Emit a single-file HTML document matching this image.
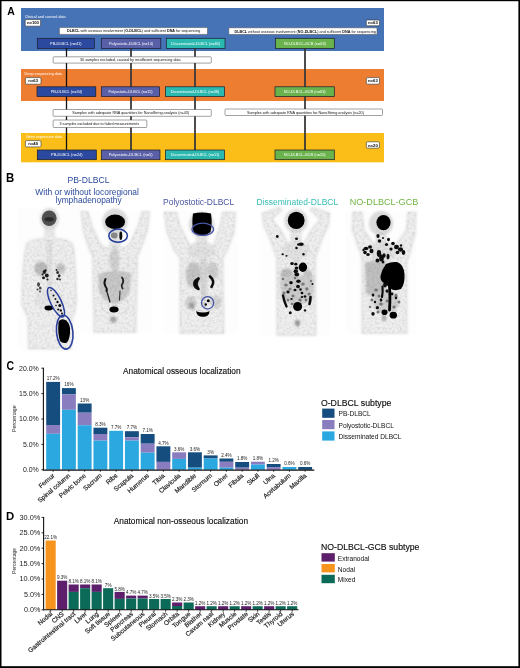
<!DOCTYPE html>
<html><head><meta charset="utf-8"><style>
html,body{margin:0;padding:0;background:#fff;}
svg{display:block;opacity:0.999;}
text{font-family:"Liberation Sans", sans-serif;}
</style></head><body>
<svg width="520" height="668" viewBox="0 0 520 668">
<rect x="0" y="0" width="520" height="668" fill="#fff"/>
<text x="0.00" y="0.00" font-size="11.45" fill="#000" text-anchor="start" font-weight="bold" transform="translate(7.2,15.2) scale(0.913,1)">A</text>
<rect x="21.00" y="8.00" width="363.00" height="43.00" fill="#4672b6" />
<rect x="21.00" y="69.00" width="363.00" height="32.00" fill="#ed7d31" />
<rect x="21.00" y="133.00" width="363.00" height="29.30" fill="#fbbd17" />
<text x="24.80" y="17.50" font-size="4.3" fill="#fff" text-anchor="start" font-weight="normal"  textLength="40.8" lengthAdjust="spacingAndGlyphs">Clinical and survival data</text>
<text x="24.60" y="75.30" font-size="4.3" fill="#fff" text-anchor="start" font-weight="normal"  textLength="37.5" lengthAdjust="spacingAndGlyphs">Deep sequencing data</text>
<text x="26.00" y="138.40" font-size="4.3" fill="#fff" text-anchor="start" font-weight="normal"  textLength="36" lengthAdjust="spacingAndGlyphs">Gene expression data</text>
<rect x="25.20" y="19.60" width="15.40" height="6.60" fill="#fff" stroke="#333" stroke-width="0.6" rx="1.2" />
<text x="32.90" y="24.40" font-size="4.2" fill="#000" text-anchor="middle" font-weight="bold" >n=100</text>
<rect x="25.40" y="77.60" width="15.60" height="6.60" fill="#fff" stroke="#333" stroke-width="0.6" rx="1.2" />
<text x="33.20" y="82.40" font-size="4.2" fill="#000" text-anchor="middle" font-weight="bold" >n=63</text>
<rect x="25.40" y="140.60" width="15.60" height="6.30" fill="#fff" stroke="#333" stroke-width="0.6" rx="1.2" />
<text x="33.20" y="145.25" font-size="4.2" fill="#000" text-anchor="middle" font-weight="bold" >n=40</text>
<rect x="366.30" y="20.00" width="13.20" height="5.80" fill="#fff" stroke="#333" stroke-width="0.6" rx="1.2" />
<text x="372.90" y="24.40" font-size="4.2" fill="#000" text-anchor="middle" font-weight="bold" >n=63</text>
<rect x="366.30" y="77.60" width="13.20" height="6.60" fill="#fff" stroke="#333" stroke-width="0.6" rx="1.2" />
<text x="372.90" y="82.40" font-size="4.2" fill="#000" text-anchor="middle" font-weight="bold" >n=63</text>
<rect x="366.30" y="141.80" width="13.20" height="6.40" fill="#fff" stroke="#333" stroke-width="0.6" rx="1.2" />
<text x="372.90" y="146.50" font-size="4.2" fill="#000" text-anchor="middle" font-weight="bold" >n=20</text>
<line x1="66.5" y1="48" x2="66.5" y2="150.5" stroke="#111" stroke-width="1.3"/>
<line x1="131.0" y1="48" x2="131.0" y2="150.5" stroke="#3a3a3a" stroke-width="1.8"/>
<line x1="195.0" y1="48" x2="195.0" y2="150.5" stroke="#3a3a3a" stroke-width="1.8"/>
<line x1="305.0" y1="48" x2="305.0" y2="150.5" stroke="#3a3a3a" stroke-width="1.8"/>
<rect x="59.40" y="27.60" width="148.10" height="6.80" fill="#fff" stroke="#444" stroke-width="0.5" rx="0.8" />
<text x="67.00" y="32.40" font-size="4.0" fill="#111" text-anchor="start" font-weight="normal"  textLength="133.4" lengthAdjust="spacingAndGlyphs"><tspan font-weight="bold">DLBCL</tspan> with osseous involvement (<tspan font-weight="bold">O-DLBCL</tspan>) and sufficient <tspan font-weight="bold">DNA</tspan> for sequencing</text>
<rect x="228.80" y="27.80" width="148.20" height="6.70" fill="#fff" stroke="#444" stroke-width="0.5" rx="0.8" />
<text x="234.50" y="32.55" font-size="4.0" fill="#111" text-anchor="start" font-weight="normal"  textLength="141.3" lengthAdjust="spacingAndGlyphs"><tspan font-weight="bold">DLBCL</tspan> without osseous involvement (<tspan font-weight="bold">NO-DLBCL</tspan>) and sufficient <tspan font-weight="bold">DNA</tspan> for sequencing</text>
<rect x="53.10" y="56.80" width="158.20" height="6.30" fill="#fff" stroke="#444" stroke-width="0.5" rx="0.8" />
<text x="80.00" y="61.35" font-size="4.0" fill="#111" text-anchor="start" font-weight="normal"  textLength="100.69999999999999" lengthAdjust="spacingAndGlyphs">30 samples excluded, caused by insufficient sequencing data</text>
<rect x="53.10" y="109.50" width="158.20" height="6.80" fill="#fff" stroke="#444" stroke-width="0.5" rx="0.8" />
<text x="72.30" y="114.30" font-size="4.0" fill="#111" text-anchor="start" font-weight="normal"  textLength="116.89999999999999" lengthAdjust="spacingAndGlyphs">Samples with adequate RNA quantities for NanoString analysis (n=43)</text>
<rect x="225.00" y="109.00" width="157.50" height="6.50" fill="#fff" stroke="#444" stroke-width="0.5" rx="0.8" />
<text x="247.00" y="113.65" font-size="4.0" fill="#111" text-anchor="start" font-weight="normal"  textLength="116.89999999999998" lengthAdjust="spacingAndGlyphs">Samples with adequate RNA quantities for NanoString analysis (n=20)</text>
<rect x="53.10" y="120.00" width="93.70" height="7.50" fill="#fff" stroke="#444" stroke-width="0.5" rx="0.8" />
<text x="59.50" y="125.15" font-size="4.0" fill="#111" text-anchor="start" font-weight="normal"  textLength="79.5" lengthAdjust="spacingAndGlyphs">3 samples excluded due to failed measurements</text>
<rect x="37.30" y="38.30" width="57.00" height="10.10" fill="#2b4a9f" stroke="#1a1a2a" stroke-width="0.7" />
<text x="65.80" y="44.75" font-size="3.9" fill="#fff" text-anchor="middle" font-weight="normal"  textLength="31.5" lengthAdjust="spacingAndGlyphs">PB-DLBCL (n=41)</text>
<rect x="101.30" y="38.30" width="59.50" height="10.10" fill="#5a60a8" stroke="#1a1a2a" stroke-width="0.7" />
<text x="131.05" y="44.75" font-size="3.9" fill="#fff" text-anchor="middle" font-weight="normal"  textLength="44" lengthAdjust="spacingAndGlyphs">Polyostotic-DLBCL (n=14)</text>
<rect x="166.30" y="38.30" width="58.70" height="10.10" fill="#2bb8ae" stroke="#1a1a2a" stroke-width="0.7" />
<text x="195.65" y="44.75" font-size="3.9" fill="#fff" text-anchor="middle" font-weight="normal"  textLength="48.7" lengthAdjust="spacingAndGlyphs">Disseminated-DLBCL (n=46)</text>
<rect x="275.50" y="38.30" width="58.80" height="10.10" fill="#6ab24b" stroke="#1a1a2a" stroke-width="0.7" />
<text x="304.90" y="44.75" font-size="3.9" fill="#fff" text-anchor="middle" font-weight="normal"  textLength="42" lengthAdjust="spacingAndGlyphs">NO-DLBCL-GCB (n=63)</text>
<rect x="37.00" y="86.80" width="58.80" height="9.80" fill="#2b4a9f" stroke="#1a1a2a" stroke-width="0.7" />
<text x="66.40" y="93.10" font-size="3.9" fill="#fff" text-anchor="middle" font-weight="normal"  textLength="31.5" lengthAdjust="spacingAndGlyphs">PB-DLBCL (n=34)</text>
<rect x="101.30" y="86.80" width="58.30" height="9.80" fill="#5a60a8" stroke="#1a1a2a" stroke-width="0.7" />
<text x="130.45" y="93.10" font-size="3.9" fill="#fff" text-anchor="middle" font-weight="normal"  textLength="44" lengthAdjust="spacingAndGlyphs">Polyostotic-DLBCL (n=11)</text>
<rect x="165.50" y="86.80" width="59.00" height="9.80" fill="#2bb8ae" stroke="#1a1a2a" stroke-width="0.7" />
<text x="195.00" y="93.10" font-size="3.9" fill="#fff" text-anchor="middle" font-weight="normal"  textLength="48.7" lengthAdjust="spacingAndGlyphs">Disseminated-DLBCL (n=38)</text>
<rect x="275.00" y="86.80" width="59.30" height="9.80" fill="#6ab24b" stroke="#1a1a2a" stroke-width="0.7" />
<text x="304.65" y="93.10" font-size="3.9" fill="#fff" text-anchor="middle" font-weight="normal"  textLength="42" lengthAdjust="spacingAndGlyphs">NO-DLBCL-GCB (n=63)</text>
<rect x="37.30" y="150.00" width="59.00" height="9.70" fill="#2b4a9f" stroke="#1a1a2a" stroke-width="0.7" />
<text x="66.80" y="156.25" font-size="3.9" fill="#fff" text-anchor="middle" font-weight="normal"  textLength="31.5" lengthAdjust="spacingAndGlyphs">PB-DLBCL (n=24)</text>
<rect x="101.30" y="150.00" width="58.70" height="9.70" fill="#5a60a8" stroke="#1a1a2a" stroke-width="0.7" />
<text x="130.65" y="156.25" font-size="3.9" fill="#fff" text-anchor="middle" font-weight="normal"  textLength="44" lengthAdjust="spacingAndGlyphs">Polyostotic-DLBCL (n=5)</text>
<rect x="165.50" y="150.00" width="59.00" height="9.70" fill="#2bb8ae" stroke="#1a1a2a" stroke-width="0.7" />
<text x="195.00" y="156.25" font-size="3.9" fill="#fff" text-anchor="middle" font-weight="normal"  textLength="48.7" lengthAdjust="spacingAndGlyphs">Disseminated-DLBCL (n=11)</text>
<rect x="275.00" y="150.00" width="59.30" height="9.70" fill="#6ab24b" stroke="#1a1a2a" stroke-width="0.7" />
<text x="304.65" y="156.25" font-size="3.9" fill="#fff" text-anchor="middle" font-weight="normal"  textLength="42" lengthAdjust="spacingAndGlyphs">NO-DLBCL-GCB (n=20)</text>
<text x="0.00" y="0.00" font-size="12" fill="#000" text-anchor="start" font-weight="bold" transform="translate(6.1,181.7) scale(0.95,1)">B</text>
<text x="67.40" y="182.70" font-size="9.9" fill="#2b4a9b" text-anchor="start" font-weight="normal"  textLength="42.1" lengthAdjust="spacingAndGlyphs">PB-DLBCL</text>
<text x="35.30" y="195.40" font-size="8.8" fill="#2b4a9b" text-anchor="start" font-weight="normal"  textLength="103.6" lengthAdjust="spacingAndGlyphs">With or without locoregional</text>
<text x="55.60" y="202.80" font-size="8.8" fill="#2b4a9b" text-anchor="start" font-weight="normal"  textLength="66" lengthAdjust="spacingAndGlyphs">lymphadenopathy</text>
<text x="163.00" y="204.50" font-size="9.6" fill="#4b56a0" text-anchor="start" font-weight="normal"  textLength="71.2" lengthAdjust="spacingAndGlyphs">Polyostotic-DLBCL</text>
<text x="256.50" y="204.50" font-size="9.6" fill="#35bdb3" text-anchor="start" font-weight="normal"  textLength="81.7" lengthAdjust="spacingAndGlyphs">Disseminated-DLBCL</text>
<text x="349.70" y="204.50" font-size="9.6" fill="#6fb543" text-anchor="start" font-weight="normal"  textLength="68.6" lengthAdjust="spacingAndGlyphs">NO-DLBCL-GCB</text>
<defs><filter id="bl" x="-10%" y="-10%" width="120%" height="120%"><feGaussianBlur stdDeviation="1.0"/></filter><filter id="bs" x="-20%" y="-20%" width="140%" height="140%"><feGaussianBlur stdDeviation="0.45"/></filter><filter id="bm2" x="-20%" y="-20%" width="140%" height="140%"><feGaussianBlur stdDeviation="0.7"/></filter><filter id="tex" x="0" y="0" width="100%" height="100%" filterUnits="userSpaceOnUse"><feTurbulence type="fractalNoise" baseFrequency="0.4" numOctaves="2" seed="7" result="n0"/><feGaussianBlur in="n0" stdDeviation="0.5" result="n"/><feColorMatrix in="n" type="matrix" values="0 0 0 0 0  0 0 0 0 0  0 0 0 0 0  2.5 0 0 0 -1.0" result="na"/><feComposite in="SourceGraphic" in2="na" operator="in"/></filter><filter id="bm" x="-20%" y="-20%" width="140%" height="140%"><feGaussianBlur stdDeviation="1.2"/></filter></defs>
<g filter="url(#bl)"><rect x="18" y="207" width="62" height="143" fill="#fdfdfd"/><path d="M45.0,226.0 L45.0,238.0 L33.0,240.0 L27.0,243.0 L25.0,250.0 L23.0,270.0 L22.0,290.0 L22.0,305.0 L25.0,312.0 L28.0,318.0 L28.5,349.0 L71.0,349.0 L72.0,318.0 L75.0,312.0 L76.5,300.0 L75.5,270.0 L74.0,250.0 L72.0,243.0 L66.0,240.0 L54.0,238.0 L54.0,226.0 Z" fill="#efefef" stroke="#dcdcdc" stroke-width="1.2"/><ellipse cx="49.5" cy="219" rx="9.8" ry="11" fill="#dedede"/><rect x="46.5" y="240" width="6" height="45" fill="#e3e3e3"/><ellipse cx="49.5" cy="300" rx="13" ry="12" fill="#e6e6e6"/></g>
<g filter="url(#bm2)"><rect x="46.9" y="240" width="5.2" height="2.3" fill="#e0e0e0"/><rect x="46.9" y="243.1" width="5.2" height="2.3" fill="#e0e0e0"/><rect x="46.9" y="246.2" width="5.2" height="2.3" fill="#e0e0e0"/><rect x="46.9" y="249.29999999999998" width="5.2" height="2.3" fill="#e0e0e0"/><rect x="46.9" y="252.39999999999998" width="5.2" height="2.3" fill="#e0e0e0"/><rect x="46.9" y="255.49999999999997" width="5.2" height="2.3" fill="#e0e0e0"/><rect x="46.9" y="258.59999999999997" width="5.2" height="2.3" fill="#e0e0e0"/><rect x="46.9" y="261.7" width="5.2" height="2.3" fill="#e0e0e0"/><rect x="46.9" y="264.8" width="5.2" height="2.3" fill="#e0e0e0"/><rect x="46.9" y="267.90000000000003" width="5.2" height="2.3" fill="#e0e0e0"/><rect x="46.9" y="271.00000000000006" width="5.2" height="2.3" fill="#e0e0e0"/><rect x="46.9" y="274.1000000000001" width="5.2" height="2.3" fill="#e0e0e0"/><rect x="46.9" y="277.2000000000001" width="5.2" height="2.3" fill="#e0e0e0"/><rect x="46.9" y="280.3000000000001" width="5.2" height="2.3" fill="#e0e0e0"/><rect x="46.9" y="283.40000000000015" width="5.2" height="2.3" fill="#e0e0e0"/><rect x="46.9" y="286.50000000000017" width="5.2" height="2.3" fill="#e0e0e0"/><rect x="46.9" y="289.6000000000002" width="5.2" height="2.3" fill="#e0e0e0"/><rect x="46.9" y="292.7000000000002" width="5.2" height="2.3" fill="#e0e0e0"/><rect x="46.9" y="295.80000000000024" width="5.2" height="2.3" fill="#e0e0e0"/><rect x="46.9" y="298.90000000000026" width="5.2" height="2.3" fill="#e0e0e0"/><path d="M46.5,246.0 Q36.83333333333333,243.5 33.666666666666664,251.0" fill="none" stroke="#eaeaea" stroke-width="0.9" stroke-linecap="round"/><path d="M52.5,246.0 Q62.16666666666667,243.5 65.33333333333333,251.0" fill="none" stroke="#eaeaea" stroke-width="0.9" stroke-linecap="round"/><path d="M46.5,250.6 Q35.56666666666667,248.1 32.083333333333336,255.6" fill="none" stroke="#eaeaea" stroke-width="0.9" stroke-linecap="round"/><path d="M52.5,250.6 Q63.43333333333333,248.1 66.91666666666666,255.6" fill="none" stroke="#eaeaea" stroke-width="0.9" stroke-linecap="round"/><path d="M46.5,255.2 Q34.3,252.7 30.5,260.2" fill="none" stroke="#eaeaea" stroke-width="0.9" stroke-linecap="round"/><path d="M52.5,255.2 Q64.7,252.7 68.5,260.2" fill="none" stroke="#eaeaea" stroke-width="0.9" stroke-linecap="round"/><path d="M46.5,259.8 Q34.3,257.3 30.5,264.8" fill="none" stroke="#eaeaea" stroke-width="0.9" stroke-linecap="round"/><path d="M52.5,259.8 Q64.7,257.3 68.5,264.8" fill="none" stroke="#eaeaea" stroke-width="0.9" stroke-linecap="round"/><path d="M46.5,264.4 Q34.3,261.9 30.5,269.4" fill="none" stroke="#eaeaea" stroke-width="0.9" stroke-linecap="round"/><path d="M52.5,264.4 Q64.7,261.9 68.5,269.4" fill="none" stroke="#eaeaea" stroke-width="0.9" stroke-linecap="round"/><path d="M46.5,269.0 Q34.3,266.5 30.5,274.0" fill="none" stroke="#eaeaea" stroke-width="0.9" stroke-linecap="round"/><path d="M52.5,269.0 Q64.7,266.5 68.5,274.0" fill="none" stroke="#eaeaea" stroke-width="0.9" stroke-linecap="round"/><path d="M46.5,273.6 Q34.3,271.1 30.5,278.6" fill="none" stroke="#eaeaea" stroke-width="0.9" stroke-linecap="round"/><path d="M52.5,273.6 Q64.7,271.1 68.5,278.6" fill="none" stroke="#eaeaea" stroke-width="0.9" stroke-linecap="round"/><path d="M45.5,294 Q34.5,291 36.5,303 Q40.5,308 46.5,307" fill="none" stroke="#e6e6e6" stroke-width="1.4" stroke-linecap="round"/><path d="M53.5,294 Q64.5,291 62.5,303 Q58.5,308 52.5,307" fill="none" stroke="#e6e6e6" stroke-width="1.4" stroke-linecap="round"/></g>
<g filter="url(#bm)"><ellipse cx="41" cy="268.5" rx="6.5" ry="7" fill="#bcbcbc"/><ellipse cx="60.6" cy="268.4" rx="4.8" ry="5.2" fill="#c4c4c4"/></g>
<g filter="url(#bs)"><ellipse cx="49.2" cy="218.2" rx="7.4" ry="7.7" fill="#505050"/><ellipse cx="49.2" cy="219.3" rx="4.5" ry="2.2" fill="#2a2a2a"/><ellipse cx="44.3" cy="272" rx="1.6" ry="1.9" fill="#1a1a1a"/><ellipse cx="46.8" cy="275.5" rx="1.9" ry="2.0" fill="#1a1a1a"/><ellipse cx="43.5" cy="277.8" rx="1.5" ry="1.5" fill="#1a1a1a"/><ellipse cx="45.5" cy="270.5" rx="1.2" ry="1.2" fill="#1a1a1a"/><ellipse cx="42.5" cy="274.5" rx="1.0" ry="1.0" fill="#1a1a1a"/><ellipse cx="47.5" cy="279.5" rx="1.0" ry="1.0" fill="#1a1a1a"/><ellipse cx="57.6" cy="272.5" rx="1.3" ry="1.5" fill="#2a2a2a"/><ellipse cx="59.2" cy="275.8" rx="1.4" ry="1.6" fill="#2a2a2a"/><ellipse cx="57.5" cy="279" rx="1.2" ry="1.2" fill="#2a2a2a"/><ellipse cx="60" cy="279.5" rx="0.9" ry="0.9" fill="#2a2a2a"/><ellipse cx="56.5" cy="270" rx="0.9" ry="0.9" fill="#2a2a2a"/><ellipse cx="38.5" cy="284.5" rx="1.5" ry="2.2" fill="#4a4a4a"/><ellipse cx="40.2" cy="288" rx="1.4" ry="1.6" fill="#4a4a4a"/><ellipse cx="37.5" cy="289.5" rx="1.1" ry="1.1" fill="#4a4a4a"/><ellipse cx="40" cy="291.5" rx="1.0" ry="1.0" fill="#4a4a4a"/><ellipse cx="48.8" cy="308" rx="4.3" ry="2.4" fill="#000"/><path d="M58.5,322 Q60,318.5 64,319.5 Q69,321 70,328 Q70.5,338 67,342.5 Q63,344 60,341 Q57.5,334 58.5,322 Z" fill="#000"/><ellipse cx="51" cy="290.5" rx="0.7" ry="0.7" fill="#111"/><ellipse cx="53.5" cy="295.5" rx="1.0" ry="1.0" fill="#111"/><ellipse cx="55.5" cy="299" rx="0.9" ry="0.9" fill="#111"/><ellipse cx="57.5" cy="302" rx="1.2" ry="1.2" fill="#111"/><ellipse cx="59.8" cy="305.5" rx="1.5" ry="1.5" fill="#111"/><ellipse cx="58.2" cy="309.5" rx="1.1" ry="1.1" fill="#111"/><ellipse cx="60.8" cy="310.5" rx="1.2" ry="1.2" fill="#111"/><ellipse cx="56" cy="305.5" rx="0.8" ry="0.8" fill="#111"/><ellipse cx="62" cy="313.5" rx="1.0" ry="1.0" fill="#111"/></g>
<ellipse cx="64.7" cy="332.2" rx="8.2" ry="17" fill="none" stroke="#2a3f9e" stroke-width="1.6" transform="rotate(-6 64.7 332.2)"/>
<ellipse cx="56" cy="302.2" rx="5.3" ry="16.2" fill="none" stroke="#2a3f9e" stroke-width="1.5" transform="rotate(-26 56 302.2)"/>
<g filter="url(#bl)"><rect x="80.5" y="210.5" width="71.5" height="122.0" fill="#fdfdfd"/><path d="M81.0,211.5 L88.0,211.5 L92.0,226.0 L100.0,243.0 L104.0,247.0 L110.0,248.0 L110.0,221.0 L120.0,221.0 L120.0,248.0 L126.0,247.0 L130.0,243.0 L138.0,226.0 L142.0,211.5 L149.5,211.5 L147.5,230.0 L140.5,250.0 L137.5,256.0 L136.0,332.5 L94.0,332.5 L92.5,256.0 L89.5,250.0 L83.0,230.0 L81.0,211.5 Z" fill="#efefef" stroke="#dcdcdc" stroke-width="1.2"/><ellipse cx="115" cy="221.5" rx="12.7" ry="13.0" fill="#dadada"/><rect x="112" y="236" width="6" height="51.5" fill="#e5e5e5"/></g>
<g filter="url(#bl)"><rect x="163.5" y="211.0" width="74.5" height="122.5" fill="#fdfdfd"/><path d="M164.0,212.0 L176.5,212.0 L180.0,226.0 L189.5,245.0 L193.0,248.0 L196.5,249.0 L196.5,224.0 L206.5,224.0 L206.5,249.0 L210.0,248.0 L213.7,245.0 L220.0,226.0 L222.6,212.0 L235.5,212.0 L234.0,232.0 L227.5,250.0 L223.0,258.0 L224.0,333.5 L180.0,333.5 L180.0,258.0 L174.0,250.0 L167.0,232.0 L164.0,212.0 Z" fill="#efefef" stroke="#dcdcdc" stroke-width="1.2"/><ellipse cx="201.5" cy="224.5" rx="12.7" ry="13.0" fill="#dadada"/><rect x="198.5" y="239" width="6" height="49.5" fill="#e5e5e5"/></g>
<g filter="url(#bl)"><rect x="260.5" y="207.5" width="70.0" height="128.0" fill="#fdfdfd"/><path d="M279.0,207.5 L282.0,210.0 L272.0,219.0 L281.0,230.4 L288.0,243.0 L290.0,245.0 L291.0,246.0 L291.0,220.5 L301.0,220.5 L301.0,246.0 L302.0,245.0 L304.0,243.0 L311.0,230.4 L320.0,219.0 L310.0,210.0 L313.0,207.5 L329.8,213.5 L328.5,225.0 L322.5,238.0 L315.5,258.0 L316.0,335.5 L277.0,335.5 L276.5,258.0 L269.5,238.0 L263.5,225.0 L262.2,213.5 L279.0,207.5 Z" fill="#efefef" stroke="#dcdcdc" stroke-width="1.2"/><ellipse cx="296.0" cy="221.0" rx="11.7" ry="12.0" fill="#dadada"/><rect x="293.0" y="235.5" width="6" height="55.0" fill="#e5e5e5"/></g>
<g filter="url(#bl)"><rect x="345.5" y="211.0" width="71.0" height="122.5" fill="#fdfdfd"/><path d="M352.9,212.0 L361.8,212.0 L364.2,230.0 L374.7,245.0 L377.0,247.0 L376.0,248.0 L376.0,223.0 L386.0,223.0 L386.0,248.0 L392.0,247.0 L395.7,245.0 L406.2,230.0 L407.9,212.0 L416.0,212.0 L415.0,235.0 L407.9,260.0 L407.0,262.0 L407.0,333.5 L362.0,333.5 L362.0,262.0 L361.0,255.0 L352.1,230.0 L352.9,212.0 Z" fill="#efefef" stroke="#dcdcdc" stroke-width="1.2"/><ellipse cx="381.0" cy="223.5" rx="12.2" ry="12.5" fill="#dadada"/><rect x="378.0" y="238" width="6" height="50.5" fill="#e5e5e5"/></g>
<g filter="url(#bm2)"><rect x="112.4" y="246" width="5.2" height="2.3" fill="#dadada"/><rect x="112.4" y="249.1" width="5.2" height="2.3" fill="#dadada"/><rect x="112.4" y="252.2" width="5.2" height="2.3" fill="#dadada"/><rect x="112.4" y="255.29999999999998" width="5.2" height="2.3" fill="#dadada"/><rect x="112.4" y="258.4" width="5.2" height="2.3" fill="#dadada"/><rect x="112.4" y="261.5" width="5.2" height="2.3" fill="#dadada"/><rect x="112.4" y="264.6" width="5.2" height="2.3" fill="#dadada"/><rect x="112.4" y="267.70000000000005" width="5.2" height="2.3" fill="#dadada"/><rect x="112.4" y="270.80000000000007" width="5.2" height="2.3" fill="#dadada"/><rect x="112.4" y="273.9000000000001" width="5.2" height="2.3" fill="#dadada"/><rect x="112.4" y="277.0000000000001" width="5.2" height="2.3" fill="#dadada"/><rect x="112.4" y="280.10000000000014" width="5.2" height="2.3" fill="#dadada"/><rect x="112.4" y="283.20000000000016" width="5.2" height="2.3" fill="#dadada"/><rect x="112.4" y="286.3000000000002" width="5.2" height="2.3" fill="#dadada"/><rect x="112.4" y="289.4000000000002" width="5.2" height="2.3" fill="#dadada"/><rect x="112.4" y="292.5000000000002" width="5.2" height="2.3" fill="#dadada"/><rect x="112.4" y="295.60000000000025" width="5.2" height="2.3" fill="#dadada"/><rect x="112.4" y="298.7000000000003" width="5.2" height="2.3" fill="#dadada"/><rect x="112.4" y="301.8000000000003" width="5.2" height="2.3" fill="#dadada"/><rect x="112.4" y="304.9000000000003" width="5.2" height="2.3" fill="#dadada"/><path d="M112,251.0 Q102.33333333333333,248.5 99.16666666666667,256.0" fill="none" stroke="#e7e7e7" stroke-width="0.9" stroke-linecap="round"/><path d="M118,251.0 Q127.66666666666667,248.5 130.83333333333334,256.0" fill="none" stroke="#e7e7e7" stroke-width="0.9" stroke-linecap="round"/><path d="M112,255.4 Q101.06666666666666,252.9 97.58333333333334,260.4" fill="none" stroke="#e7e7e7" stroke-width="0.9" stroke-linecap="round"/><path d="M118,255.4 Q128.93333333333334,252.9 132.41666666666666,260.4" fill="none" stroke="#e7e7e7" stroke-width="0.9" stroke-linecap="round"/><path d="M112,259.8 Q99.8,257.3 96.0,264.8" fill="none" stroke="#e7e7e7" stroke-width="0.9" stroke-linecap="round"/><path d="M118,259.8 Q130.2,257.3 134.0,264.8" fill="none" stroke="#e7e7e7" stroke-width="0.9" stroke-linecap="round"/><path d="M112,264.2 Q99.8,261.7 96.0,269.2" fill="none" stroke="#e7e7e7" stroke-width="0.9" stroke-linecap="round"/><path d="M118,264.2 Q130.2,261.7 134.0,269.2" fill="none" stroke="#e7e7e7" stroke-width="0.9" stroke-linecap="round"/><path d="M112,268.6 Q99.8,266.1 96.0,273.6" fill="none" stroke="#e7e7e7" stroke-width="0.9" stroke-linecap="round"/><path d="M118,268.6 Q130.2,266.1 134.0,273.6" fill="none" stroke="#e7e7e7" stroke-width="0.9" stroke-linecap="round"/><path d="M112,273.0 Q99.8,270.5 96.0,278.0" fill="none" stroke="#e7e7e7" stroke-width="0.9" stroke-linecap="round"/><path d="M118,273.0 Q130.2,270.5 134.0,278.0" fill="none" stroke="#e7e7e7" stroke-width="0.9" stroke-linecap="round"/><path d="M112,277.4 Q99.8,274.9 96.0,282.4" fill="none" stroke="#e7e7e7" stroke-width="0.9" stroke-linecap="round"/><path d="M118,277.4 Q130.2,274.9 134.0,282.4" fill="none" stroke="#e7e7e7" stroke-width="0.9" stroke-linecap="round"/><rect x="200.9" y="246" width="5.2" height="2.3" fill="#d2d2d2"/><rect x="200.9" y="249.1" width="5.2" height="2.3" fill="#d2d2d2"/><rect x="200.9" y="252.2" width="5.2" height="2.3" fill="#d2d2d2"/><rect x="200.9" y="255.29999999999998" width="5.2" height="2.3" fill="#d2d2d2"/><rect x="200.9" y="258.4" width="5.2" height="2.3" fill="#d2d2d2"/><rect x="200.9" y="261.5" width="5.2" height="2.3" fill="#d2d2d2"/><rect x="200.9" y="264.6" width="5.2" height="2.3" fill="#d2d2d2"/><rect x="200.9" y="267.70000000000005" width="5.2" height="2.3" fill="#d2d2d2"/><rect x="200.9" y="270.80000000000007" width="5.2" height="2.3" fill="#d2d2d2"/><rect x="200.9" y="273.9000000000001" width="5.2" height="2.3" fill="#d2d2d2"/><rect x="200.9" y="277.0000000000001" width="5.2" height="2.3" fill="#d2d2d2"/><rect x="200.9" y="280.10000000000014" width="5.2" height="2.3" fill="#d2d2d2"/><rect x="200.9" y="283.20000000000016" width="5.2" height="2.3" fill="#d2d2d2"/><rect x="200.9" y="286.3000000000002" width="5.2" height="2.3" fill="#d2d2d2"/><rect x="200.9" y="289.4000000000002" width="5.2" height="2.3" fill="#d2d2d2"/><rect x="200.9" y="292.5000000000002" width="5.2" height="2.3" fill="#d2d2d2"/><rect x="200.9" y="295.60000000000025" width="5.2" height="2.3" fill="#d2d2d2"/><rect x="200.9" y="298.7000000000003" width="5.2" height="2.3" fill="#d2d2d2"/><rect x="200.9" y="301.8000000000003" width="5.2" height="2.3" fill="#d2d2d2"/><rect x="200.9" y="304.9000000000003" width="5.2" height="2.3" fill="#d2d2d2"/><path d="M200.5,250.0 Q191.5,247.5 188.5,255.0" fill="none" stroke="#e0e0e0" stroke-width="0.9" stroke-linecap="round"/><path d="M206.5,250.0 Q215.5,247.5 218.5,255.0" fill="none" stroke="#e0e0e0" stroke-width="0.9" stroke-linecap="round"/><path d="M200.5,254.5 Q190.3,252.0 187.0,259.5" fill="none" stroke="#e0e0e0" stroke-width="0.9" stroke-linecap="round"/><path d="M206.5,254.5 Q216.7,252.0 220.0,259.5" fill="none" stroke="#e0e0e0" stroke-width="0.9" stroke-linecap="round"/><path d="M200.5,259.0 Q189.1,256.5 185.5,264.0" fill="none" stroke="#e0e0e0" stroke-width="0.9" stroke-linecap="round"/><path d="M206.5,259.0 Q217.9,256.5 221.5,264.0" fill="none" stroke="#e0e0e0" stroke-width="0.9" stroke-linecap="round"/><path d="M200.5,263.5 Q189.1,261.0 185.5,268.5" fill="none" stroke="#e0e0e0" stroke-width="0.9" stroke-linecap="round"/><path d="M206.5,263.5 Q217.9,261.0 221.5,268.5" fill="none" stroke="#e0e0e0" stroke-width="0.9" stroke-linecap="round"/><path d="M200.5,268.0 Q189.1,265.5 185.5,273.0" fill="none" stroke="#e0e0e0" stroke-width="0.9" stroke-linecap="round"/><path d="M206.5,268.0 Q217.9,265.5 221.5,273.0" fill="none" stroke="#e0e0e0" stroke-width="0.9" stroke-linecap="round"/><path d="M200.5,272.5 Q189.1,270.0 185.5,277.5" fill="none" stroke="#e0e0e0" stroke-width="0.9" stroke-linecap="round"/><path d="M206.5,272.5 Q217.9,270.0 221.5,277.5" fill="none" stroke="#e0e0e0" stroke-width="0.9" stroke-linecap="round"/><path d="M200.5,277.0 Q189.1,274.5 185.5,282.0" fill="none" stroke="#e0e0e0" stroke-width="0.9" stroke-linecap="round"/><path d="M206.5,277.0 Q217.9,274.5 221.5,282.0" fill="none" stroke="#e0e0e0" stroke-width="0.9" stroke-linecap="round"/><rect x="293.9" y="241" width="5.2" height="2.3" fill="#dadada"/><rect x="293.9" y="244.1" width="5.2" height="2.3" fill="#dadada"/><rect x="293.9" y="247.2" width="5.2" height="2.3" fill="#dadada"/><rect x="293.9" y="250.29999999999998" width="5.2" height="2.3" fill="#dadada"/><rect x="293.9" y="253.39999999999998" width="5.2" height="2.3" fill="#dadada"/><rect x="293.9" y="256.5" width="5.2" height="2.3" fill="#dadada"/><rect x="293.9" y="259.6" width="5.2" height="2.3" fill="#dadada"/><rect x="293.9" y="262.70000000000005" width="5.2" height="2.3" fill="#dadada"/><rect x="293.9" y="265.80000000000007" width="5.2" height="2.3" fill="#dadada"/><rect x="293.9" y="268.9000000000001" width="5.2" height="2.3" fill="#dadada"/><rect x="293.9" y="272.0000000000001" width="5.2" height="2.3" fill="#dadada"/><rect x="293.9" y="275.10000000000014" width="5.2" height="2.3" fill="#dadada"/><rect x="293.9" y="278.20000000000016" width="5.2" height="2.3" fill="#dadada"/><rect x="293.9" y="281.3000000000002" width="5.2" height="2.3" fill="#dadada"/><rect x="293.9" y="284.4000000000002" width="5.2" height="2.3" fill="#dadada"/><rect x="293.9" y="287.5000000000002" width="5.2" height="2.3" fill="#dadada"/><rect x="293.9" y="290.60000000000025" width="5.2" height="2.3" fill="#dadada"/><rect x="293.9" y="293.7000000000003" width="5.2" height="2.3" fill="#dadada"/><rect x="293.9" y="296.8000000000003" width="5.2" height="2.3" fill="#dadada"/><rect x="293.9" y="299.9000000000003" width="5.2" height="2.3" fill="#dadada"/><path d="M293.5,246.0 Q284.5,243.5 281.5,251.0" fill="none" stroke="#e7e7e7" stroke-width="0.9" stroke-linecap="round"/><path d="M299.5,246.0 Q308.5,243.5 311.5,251.0" fill="none" stroke="#e7e7e7" stroke-width="0.9" stroke-linecap="round"/><path d="M293.5,250.4 Q283.3,247.9 280.0,255.4" fill="none" stroke="#e7e7e7" stroke-width="0.9" stroke-linecap="round"/><path d="M299.5,250.4 Q309.7,247.9 313.0,255.4" fill="none" stroke="#e7e7e7" stroke-width="0.9" stroke-linecap="round"/><path d="M293.5,254.8 Q282.1,252.3 278.5,259.8" fill="none" stroke="#e7e7e7" stroke-width="0.9" stroke-linecap="round"/><path d="M299.5,254.8 Q310.9,252.3 314.5,259.8" fill="none" stroke="#e7e7e7" stroke-width="0.9" stroke-linecap="round"/><path d="M293.5,259.2 Q282.1,256.7 278.5,264.2" fill="none" stroke="#e7e7e7" stroke-width="0.9" stroke-linecap="round"/><path d="M299.5,259.2 Q310.9,256.7 314.5,264.2" fill="none" stroke="#e7e7e7" stroke-width="0.9" stroke-linecap="round"/><path d="M293.5,263.6 Q282.1,261.1 278.5,268.6" fill="none" stroke="#e7e7e7" stroke-width="0.9" stroke-linecap="round"/><path d="M299.5,263.6 Q310.9,261.1 314.5,268.6" fill="none" stroke="#e7e7e7" stroke-width="0.9" stroke-linecap="round"/><path d="M293.5,268.0 Q282.1,265.5 278.5,273.0" fill="none" stroke="#e7e7e7" stroke-width="0.9" stroke-linecap="round"/><path d="M299.5,268.0 Q310.9,265.5 314.5,273.0" fill="none" stroke="#e7e7e7" stroke-width="0.9" stroke-linecap="round"/><path d="M293.5,272.4 Q282.1,269.9 278.5,277.4" fill="none" stroke="#e7e7e7" stroke-width="0.9" stroke-linecap="round"/><path d="M299.5,272.4 Q310.9,269.9 314.5,277.4" fill="none" stroke="#e7e7e7" stroke-width="0.9" stroke-linecap="round"/><rect x="381.4" y="244" width="5.2" height="2.3" fill="#dadada"/><rect x="381.4" y="247.1" width="5.2" height="2.3" fill="#dadada"/><rect x="381.4" y="250.2" width="5.2" height="2.3" fill="#dadada"/><rect x="381.4" y="253.29999999999998" width="5.2" height="2.3" fill="#dadada"/><rect x="381.4" y="256.4" width="5.2" height="2.3" fill="#dadada"/><rect x="381.4" y="259.5" width="5.2" height="2.3" fill="#dadada"/><rect x="381.4" y="262.6" width="5.2" height="2.3" fill="#dadada"/><rect x="381.4" y="265.70000000000005" width="5.2" height="2.3" fill="#dadada"/><rect x="381.4" y="268.80000000000007" width="5.2" height="2.3" fill="#dadada"/><rect x="381.4" y="271.9000000000001" width="5.2" height="2.3" fill="#dadada"/><rect x="381.4" y="275.0000000000001" width="5.2" height="2.3" fill="#dadada"/><rect x="381.4" y="278.10000000000014" width="5.2" height="2.3" fill="#dadada"/><rect x="381.4" y="281.20000000000016" width="5.2" height="2.3" fill="#dadada"/><rect x="381.4" y="284.3000000000002" width="5.2" height="2.3" fill="#dadada"/><rect x="381.4" y="287.4000000000002" width="5.2" height="2.3" fill="#dadada"/><rect x="381.4" y="290.5000000000002" width="5.2" height="2.3" fill="#dadada"/><rect x="381.4" y="293.60000000000025" width="5.2" height="2.3" fill="#dadada"/><rect x="381.4" y="296.7000000000003" width="5.2" height="2.3" fill="#dadada"/><rect x="381.4" y="299.8000000000003" width="5.2" height="2.3" fill="#dadada"/><path d="M381,249.0 Q371.3333333333333,246.5 368.1666666666667,254.0" fill="none" stroke="#e7e7e7" stroke-width="0.9" stroke-linecap="round"/><path d="M387,249.0 Q396.6666666666667,246.5 399.8333333333333,254.0" fill="none" stroke="#e7e7e7" stroke-width="0.9" stroke-linecap="round"/><path d="M381,253.4 Q370.06666666666666,250.9 366.5833333333333,258.4" fill="none" stroke="#e7e7e7" stroke-width="0.9" stroke-linecap="round"/><path d="M387,253.4 Q397.93333333333334,250.9 401.4166666666667,258.4" fill="none" stroke="#e7e7e7" stroke-width="0.9" stroke-linecap="round"/><path d="M381,257.8 Q368.8,255.3 365.0,262.8" fill="none" stroke="#e7e7e7" stroke-width="0.9" stroke-linecap="round"/><path d="M387,257.8 Q399.2,255.3 403.0,262.8" fill="none" stroke="#e7e7e7" stroke-width="0.9" stroke-linecap="round"/><path d="M381,262.2 Q368.8,259.7 365.0,267.2" fill="none" stroke="#e7e7e7" stroke-width="0.9" stroke-linecap="round"/><path d="M387,262.2 Q399.2,259.7 403.0,267.2" fill="none" stroke="#e7e7e7" stroke-width="0.9" stroke-linecap="round"/><path d="M381,266.6 Q368.8,264.1 365.0,271.6" fill="none" stroke="#e7e7e7" stroke-width="0.9" stroke-linecap="round"/><path d="M387,266.6 Q399.2,264.1 403.0,271.6" fill="none" stroke="#e7e7e7" stroke-width="0.9" stroke-linecap="round"/><path d="M381,271.0 Q368.8,268.5 365.0,276.0" fill="none" stroke="#e7e7e7" stroke-width="0.9" stroke-linecap="round"/><path d="M387,271.0 Q399.2,268.5 403.0,276.0" fill="none" stroke="#e7e7e7" stroke-width="0.9" stroke-linecap="round"/><path d="M381,275.4 Q368.8,272.9 365.0,280.4" fill="none" stroke="#e7e7e7" stroke-width="0.9" stroke-linecap="round"/><path d="M387,275.4 Q399.2,272.9 403.0,280.4" fill="none" stroke="#e7e7e7" stroke-width="0.9" stroke-linecap="round"/><path d="M111,300 Q100,297 102,309 Q106,314 112,313" fill="none" stroke="#e2e2e2" stroke-width="1.4" stroke-linecap="round"/><path d="M119,300 Q130,297 128,309 Q124,314 118,313" fill="none" stroke="#e2e2e2" stroke-width="1.4" stroke-linecap="round"/><path d="M199.5,297 Q188.5,294 190.5,306 Q194.5,311 200.5,310" fill="none" stroke="#e2e2e2" stroke-width="1.4" stroke-linecap="round"/><path d="M207.5,297 Q218.5,294 216.5,306 Q212.5,311 206.5,310" fill="none" stroke="#e2e2e2" stroke-width="1.4" stroke-linecap="round"/><path d="M293,294 Q282,291 284,303 Q288,308 294,307" fill="none" stroke="#e2e2e2" stroke-width="1.4" stroke-linecap="round"/><path d="M301,294 Q312,291 310,303 Q306,308 300,307" fill="none" stroke="#e2e2e2" stroke-width="1.4" stroke-linecap="round"/><path d="M380,296 Q369,293 371,305 Q375,310 381,309" fill="none" stroke="#e2e2e2" stroke-width="1.4" stroke-linecap="round"/><path d="M388,296 Q399,293 397,305 Q393,310 387,309" fill="none" stroke="#e2e2e2" stroke-width="1.4" stroke-linecap="round"/></g>
<g filter="url(#bm)"><ellipse cx="114.5" cy="260" rx="5" ry="11" fill="#d0d0d0"/><path d="M98,274 Q114,268 131,273 L130,290 Q126,301 117,303 L111,303 Q102,300 99,291 Z" fill="#c8c8c8"/><ellipse cx="113.2" cy="319.5" rx="3.3" ry="3.3" fill="#a8a8a8"/></g>
<g filter="url(#bs)"><ellipse cx="115.1" cy="221.8" rx="10" ry="7.2" fill="#050505"/><ellipse cx="114.3" cy="235.5" rx="3.4" ry="3.0" fill="#8a8a8a"/><ellipse cx="120.8" cy="235.8" rx="1.5" ry="4.2" fill="#111"/><path d="M105.5,279 Q103.5,283 105.5,286.5 Q107.5,289 106.5,291" fill="none" stroke="#151515" stroke-width="2.0" stroke-linecap="round"/><path d="M107,292 L110,302" fill="none" stroke="#222" stroke-width="1.3" stroke-linecap="round"/><path d="M122,277.5 Q124.5,281 122,284.5 Q121,286.5 122.5,288.5" fill="none" stroke="#222" stroke-width="1.8" stroke-linecap="round"/><path d="M120,291 L119.5,300" fill="none" stroke="#333" stroke-width="1.1" stroke-linecap="round"/><ellipse cx="114" cy="309.5" rx="4.6" ry="3.0" fill="#000"/></g>
<ellipse cx="118.1" cy="235.7" rx="9.3" ry="6.6" fill="none" stroke="#1f3a9a" stroke-width="1.5"/>
<g filter="url(#bm)"><ellipse cx="201.5" cy="250" rx="14" ry="9" fill="#e2e2e2"/><ellipse cx="193.5" cy="275" rx="7.5" ry="13" fill="#c4c4c4"/><ellipse cx="212.6" cy="271" rx="5.8" ry="9" fill="#cecece"/><rect x="201" y="262" width="6" height="35" fill="#d6d6d6"/><ellipse cx="191" cy="303" rx="5.5" ry="7" fill="#d0d0d0"/><ellipse cx="216" cy="302" rx="5.5" ry="6.5" fill="#d4d4d4"/><ellipse cx="191.7" cy="305.6" rx="2.6" ry="3" fill="#9a9a9a"/></g>
<g filter="url(#bs)"><path d="M193,213.5 Q202,211.5 211,213.5 Q212.5,224 210.5,232 Q206,235.5 202,235.5 Q197,235.5 193.5,232 Q191.5,224 193,213.5 Z" fill="#060606"/><path d="M198.5,277.5 Q193,279 193,284 Q193.5,289.5 199,290 Q197,287 197,284 Q197,280 200,279 Z" fill="#0a0a0a"/><path d="M198.5,278.5 Q194.5,283.5 198.5,289" fill="none" stroke="#0a0a0a" stroke-width="2.6" stroke-linecap="round"/><path d="M210,276.5 Q215.5,281 211.5,287" fill="none" stroke="#111" stroke-width="2.6" stroke-linecap="round"/><ellipse cx="208.3" cy="300.8" rx="1.5" ry="1.5" fill="#000"/><ellipse cx="205.8" cy="304.5" rx="1.2" ry="1.2" fill="#111"/><path d="M196,311.3 Q203,313.8 209.7,311.3 Q208.8,317 203,316.8 Q197.2,317 196,311.3 Z" fill="#000"/></g>
<ellipse cx="202.8" cy="229.3" rx="10.8" ry="6.1" fill="none" stroke="#4a56a8" stroke-width="1.3"/>
<circle cx="207.6" cy="302.8" r="6.1" fill="none" stroke="#4a56a8" stroke-width="1.3"/>
<g filter="url(#bm)"><ellipse cx="296" cy="250" rx="13" ry="9" fill="#e2e2e2"/><ellipse cx="287" cy="274" rx="6.5" ry="5.5" fill="#bcbcbc"/><ellipse cx="307.5" cy="275" rx="4.5" ry="5" fill="#c4c4c4"/><path d="M280,278 Q296,272 314,278 L313,298 Q305,305 296,305 Q287,305 281,298 Z" fill="#cdcdcd"/><ellipse cx="297.5" cy="323" rx="2.6" ry="3.2" fill="#9a9a9a"/></g>
<g filter="url(#bm2)"><ellipse cx="286" cy="285" rx="1.8" ry="1.5" fill="#7a7a7a"/><ellipse cx="290" cy="289" rx="1.6" ry="1.6" fill="#7a7a7a"/><ellipse cx="284" cy="293" rx="1.5" ry="1.5" fill="#7a7a7a"/><ellipse cx="303" cy="284" rx="1.8" ry="1.6" fill="#7a7a7a"/><ellipse cx="307" cy="289" rx="1.6" ry="1.8" fill="#7a7a7a"/><ellipse cx="309" cy="294" rx="1.5" ry="1.5" fill="#7a7a7a"/><ellipse cx="293" cy="296" rx="1.6" ry="1.4" fill="#7a7a7a"/><ellipse cx="300" cy="300" rx="1.6" ry="1.4" fill="#7a7a7a"/><ellipse cx="288" cy="300" rx="1.3" ry="1.3" fill="#7a7a7a"/><ellipse cx="306" cy="300" rx="1.4" ry="1.4" fill="#7a7a7a"/><ellipse cx="283" cy="279" rx="1.3" ry="1.3" fill="#7a7a7a"/><ellipse cx="311" cy="281" rx="1.2" ry="1.2" fill="#7a7a7a"/><ellipse cx="295" cy="278" rx="1.3" ry="1.3" fill="#7a7a7a"/><ellipse cx="292" cy="304" rx="1.3" ry="1.3" fill="#7a7a7a"/></g>
<g filter="url(#bs)"><ellipse cx="296.2" cy="220.4" rx="8.4" ry="8.6" fill="#000"/><ellipse cx="277.3" cy="236.5" rx="1.4" ry="1.4" fill="#111"/><ellipse cx="296.5" cy="238.8" rx="1.5" ry="1.3" fill="#111"/><ellipse cx="301.2" cy="244.2" rx="2.6" ry="1.7" fill="#111"/><ellipse cx="298.5" cy="244.5" rx="1.4" ry="1.2" fill="#111"/><ellipse cx="296.5" cy="248" rx="1.3" ry="1.3" fill="#111"/><ellipse cx="282.7" cy="254.2" rx="1.2" ry="1.0" fill="#111"/><ellipse cx="286.5" cy="255.8" rx="1.0" ry="0.9" fill="#111"/><ellipse cx="303.5" cy="254.2" rx="1.2" ry="1.3" fill="#111"/><ellipse cx="292" cy="263.5" rx="1.8" ry="1.5" fill="#111"/><ellipse cx="295.8" cy="264.2" rx="1.6" ry="1.4" fill="#111"/><ellipse cx="296.5" cy="268" rx="1.8" ry="1.6" fill="#111"/><ellipse cx="295.8" cy="271.2" rx="2.2" ry="2.0" fill="#111"/><ellipse cx="296.8" cy="274.6" rx="2.4" ry="2.0" fill="#111"/><ellipse cx="298.4" cy="281.2" rx="2.2" ry="1.8" fill="#111"/><ellipse cx="291" cy="282.7" rx="1.8" ry="1.6" fill="#111"/><ellipse cx="298" cy="286.5" rx="2.0" ry="1.7" fill="#111"/><ellipse cx="295" cy="290" rx="1.5" ry="1.3" fill="#111"/><ellipse cx="300.5" cy="289.5" rx="1.3" ry="1.2" fill="#111"/><ellipse cx="288" cy="292" rx="1.6" ry="1.4" fill="#111"/><ellipse cx="302" cy="293" rx="1.4" ry="1.2" fill="#111"/><ellipse cx="302" cy="297" rx="1.3" ry="1.1" fill="#111"/><ellipse cx="290.3" cy="312.7" rx="1.5" ry="1.5" fill="#111"/><ellipse cx="305" cy="310.4" rx="1.2" ry="1.2" fill="#111"/><ellipse cx="312.5" cy="284" rx="1.0" ry="1.0" fill="#111"/><ellipse cx="291.5" cy="299" rx="1.2" ry="1.0" fill="#111"/><ellipse cx="305" cy="296.5" rx="1.3" ry="1.3" fill="#111"/><path d="M283,295.5 Q284,301 286.5,306.5" fill="none" stroke="#111" stroke-width="2.4" stroke-linecap="round"/><path d="M310.5,297 Q310.5,300.5 309.5,304" fill="none" stroke="#111" stroke-width="2.6" stroke-linecap="round"/><ellipse cx="302.9" cy="267.3" rx="4.2" ry="4.7" fill="#000"/><ellipse cx="297.6" cy="306.5" rx="4.5" ry="4.5" fill="#000"/></g>
<g filter="url(#bm)"><ellipse cx="383" cy="251" rx="14" ry="10" fill="#e0e0e0"/><path d="M365,263 Q374,259 386,262 L384,295 Q374,299 366,293 Z" fill="#c0c0c0"/><ellipse cx="386" cy="302" rx="13" ry="11" fill="#cfcfcf"/><ellipse cx="384" cy="318" rx="2.2" ry="3" fill="#aaaaaa"/></g>
<g filter="url(#bm2)"><ellipse cx="376" cy="290" rx="1.8" ry="1.5" fill="#777"/><ellipse cx="379" cy="296" rx="1.6" ry="1.6" fill="#777"/><ellipse cx="372" cy="300" rx="1.4" ry="1.4" fill="#777"/><ellipse cx="381" cy="304" rx="1.8" ry="1.5" fill="#777"/><ellipse cx="396" cy="296" rx="1.6" ry="2.2" fill="#777"/><ellipse cx="399" cy="302" rx="1.5" ry="1.5" fill="#777"/><ellipse cx="370" cy="307" rx="1.2" ry="1.2" fill="#777"/><ellipse cx="378" cy="312" rx="1.5" ry="1.5" fill="#777"/><ellipse cx="394" cy="307" rx="1.6" ry="1.6" fill="#777"/><ellipse cx="387" cy="301" rx="1.4" ry="1.4" fill="#777"/></g>
<g filter="url(#bs)"><ellipse cx="383.5" cy="222.6" rx="7.1" ry="7.7" fill="#050505"/><path d="M386,264 Q391,261.5 397,262 Q403.5,264 404.5,274 Q405,284 401,289 Q396,291 392,289.5 Q388,286 384,283 Q380,281 380.5,276 Q381.5,270 386,264 Z" fill="#000"/><ellipse cx="378" cy="236" rx="1.6" ry="2.0" fill="#111"/><ellipse cx="379.5" cy="241" rx="1.8" ry="1.8" fill="#111"/><ellipse cx="388.5" cy="239.5" rx="1.5" ry="1.8" fill="#111"/><ellipse cx="386.5" cy="244.5" rx="1.6" ry="1.6" fill="#111"/><ellipse cx="383" cy="238" rx="1.0" ry="1.0" fill="#111"/><ellipse cx="366" cy="248.5" rx="2.4" ry="1.8" fill="#111"/><ellipse cx="370" cy="247" rx="2.0" ry="1.7" fill="#111"/><ellipse cx="371.5" cy="251" rx="2.0" ry="2.2" fill="#111"/><ellipse cx="365" cy="252.5" rx="1.8" ry="1.8" fill="#111"/><ellipse cx="368" cy="254.5" rx="1.8" ry="1.5" fill="#111"/><ellipse cx="363.5" cy="250" rx="1.2" ry="1.2" fill="#111"/><ellipse cx="393" cy="243.5" rx="1.8" ry="1.8" fill="#111"/><ellipse cx="396.5" cy="247" rx="2.5" ry="2.2" fill="#111"/><ellipse cx="400.5" cy="249.5" rx="2.6" ry="2.2" fill="#111"/><ellipse cx="403.5" cy="252.5" rx="1.8" ry="2.4" fill="#111"/><ellipse cx="397.5" cy="252.5" rx="1.8" ry="1.8" fill="#111"/><ellipse cx="391" cy="249" rx="1.6" ry="1.6" fill="#111"/><ellipse cx="401" cy="245.5" rx="1.2" ry="1.2" fill="#111"/><ellipse cx="379" cy="253.5" rx="2.2" ry="3.4" fill="#111"/><ellipse cx="381.5" cy="258" rx="2.4" ry="3.4" fill="#111"/><ellipse cx="377.5" cy="260.5" rx="2.0" ry="2.0" fill="#111"/><ellipse cx="384" cy="255.5" rx="1.6" ry="2.2" fill="#111"/><ellipse cx="388" cy="256.5" rx="1.5" ry="2.8" fill="#111"/><ellipse cx="383" cy="262" rx="1.4" ry="1.4" fill="#111"/><ellipse cx="373" cy="295" rx="1.3" ry="1.6" fill="#111"/><ellipse cx="377.4" cy="307.7" rx="1.6" ry="1.6" fill="#111"/><ellipse cx="373" cy="313.8" rx="1.7" ry="1.9" fill="#111"/><ellipse cx="375" cy="302" rx="1.2" ry="1.2" fill="#111"/><ellipse cx="381" cy="300" rx="1.3" ry="1.7" fill="#111"/><ellipse cx="385" cy="285" rx="2.0" ry="2.4" fill="#111"/><ellipse cx="387" cy="291" rx="1.5" ry="1.7" fill="#111"/><ellipse cx="392" cy="294" rx="1.4" ry="1.4" fill="#111"/><ellipse cx="396" cy="298" rx="1.2" ry="1.2" fill="#111"/><path d="M389.2,284 Q390.5,295 389.5,310" fill="none" stroke="#000" stroke-width="2.8" stroke-linecap="round"/><path d="M382.5,286.5 Q383,292 382,297" fill="none" stroke="#111" stroke-width="2.2" stroke-linecap="round"/><ellipse cx="384.5" cy="312.3" rx="3.0" ry="2.8" fill="#000"/><ellipse cx="393.3" cy="315.2" rx="3.7" ry="3.4" fill="#000"/></g>
<g filter="url(#tex)" opacity="0.08"><path d="M45.0,226.0 L45.0,238.0 L33.0,240.0 L27.0,243.0 L25.0,250.0 L23.0,270.0 L22.0,290.0 L22.0,305.0 L25.0,312.0 L28.0,318.0 L28.5,349.0 L71.0,349.0 L72.0,318.0 L75.0,312.0 L76.5,300.0 L75.5,270.0 L74.0,250.0 L72.0,243.0 L66.0,240.0 L54.0,238.0 L54.0,226.0 Z" fill="#000"/><path d="M81.0,211.5 L88.0,211.5 L92.0,226.0 L100.0,243.0 L104.0,247.0 L110.0,248.0 L110.0,221.0 L120.0,221.0 L120.0,248.0 L126.0,247.0 L130.0,243.0 L138.0,226.0 L142.0,211.5 L149.5,211.5 L147.5,230.0 L140.5,250.0 L137.5,256.0 L136.0,332.5 L94.0,332.5 L92.5,256.0 L89.5,250.0 L83.0,230.0 L81.0,211.5 Z" fill="#000"/><path d="M164.0,212.0 L176.5,212.0 L180.0,226.0 L189.5,245.0 L193.0,248.0 L196.5,249.0 L196.5,224.0 L206.5,224.0 L206.5,249.0 L210.0,248.0 L213.7,245.0 L220.0,226.0 L222.6,212.0 L235.5,212.0 L234.0,232.0 L227.5,250.0 L223.0,258.0 L224.0,333.5 L180.0,333.5 L180.0,258.0 L174.0,250.0 L167.0,232.0 L164.0,212.0 Z" fill="#000"/><path d="M279.0,207.5 L282.0,210.0 L272.0,219.0 L281.0,230.4 L288.0,243.0 L290.0,245.0 L291.0,246.0 L291.0,220.5 L301.0,220.5 L301.0,246.0 L302.0,245.0 L304.0,243.0 L311.0,230.4 L320.0,219.0 L310.0,210.0 L313.0,207.5 L329.8,213.5 L328.5,225.0 L322.5,238.0 L315.5,258.0 L316.0,335.5 L277.0,335.5 L276.5,258.0 L269.5,238.0 L263.5,225.0 L262.2,213.5 L279.0,207.5 Z" fill="#000"/><path d="M352.9,212.0 L361.8,212.0 L364.2,230.0 L374.7,245.0 L377.0,247.0 L376.0,248.0 L376.0,223.0 L386.0,223.0 L386.0,248.0 L392.0,247.0 L395.7,245.0 L406.2,230.0 L407.9,212.0 L416.0,212.0 L415.0,235.0 L407.9,260.0 L407.0,262.0 L407.0,333.5 L362.0,333.5 L362.0,262.0 L361.0,255.0 L352.1,230.0 L352.9,212.0 Z" fill="#000"/></g>
<text x="0.00" y="0.00" font-size="12.3" fill="#000" text-anchor="start" font-weight="bold" transform="translate(6.4,370) scale(0.85,1)">C</text>
<line x1="43.4" y1="367.8" x2="43.4" y2="470.3" stroke="#111" stroke-width="1.1"/>
<line x1="41.4" y1="469.80" x2="43.4" y2="469.80" stroke="#111" stroke-width="0.9"/>
<text x="22.90" y="472.20" font-size="6.7" fill="#222" text-anchor="start" font-weight="normal"  textLength="15.9" lengthAdjust="spacingAndGlyphs">0.0%</text>
<line x1="41.4" y1="444.40" x2="43.4" y2="444.40" stroke="#111" stroke-width="0.9"/>
<text x="22.90" y="446.80" font-size="6.7" fill="#222" text-anchor="start" font-weight="normal"  textLength="15.9" lengthAdjust="spacingAndGlyphs">5.0%</text>
<line x1="41.4" y1="419.00" x2="43.4" y2="419.00" stroke="#111" stroke-width="0.9"/>
<text x="19.00" y="421.40" font-size="6.7" fill="#222" text-anchor="start" font-weight="normal"  textLength="19.8" lengthAdjust="spacingAndGlyphs">10.0%</text>
<line x1="41.4" y1="393.60" x2="43.4" y2="393.60" stroke="#111" stroke-width="0.9"/>
<text x="19.00" y="396.00" font-size="6.7" fill="#222" text-anchor="start" font-weight="normal"  textLength="19.8" lengthAdjust="spacingAndGlyphs">15.0%</text>
<line x1="41.4" y1="368.20" x2="43.4" y2="368.20" stroke="#111" stroke-width="0.9"/>
<text x="19.00" y="370.60" font-size="6.7" fill="#222" text-anchor="start" font-weight="normal"  textLength="19.8" lengthAdjust="spacingAndGlyphs">20.0%</text>
<text x="0.00" y="0.00" font-size="5.6" fill="#222" text-anchor="middle" font-weight="normal" transform="translate(15.6,418.7) rotate(-90)" textLength="26.4" lengthAdjust="spacingAndGlyphs">Percentage</text>
<text x="123.00" y="374.40" font-size="8.3" fill="#111" text-anchor="start" font-weight="normal" stroke="#111" stroke-width="0.15">Anatomical osseous localization</text>
<rect x="46.20" y="381.90" width="13.90" height="43.10" fill="#154d7e" />
<rect x="46.20" y="425.00" width="13.90" height="8.80" fill="#8a7dbf" />
<rect x="46.20" y="433.80" width="13.90" height="36.00" fill="#2ca8e0" />
<text x="53.15" y="380.10" font-size="4.6" fill="#222" text-anchor="middle" font-weight="normal" >17.2%</text>
<line x1="53.15" y1="469.8" x2="53.15" y2="471.8" stroke="#111" stroke-width="0.8"/>
<text x="0.00" y="0.00" font-size="6.5" fill="#222" text-anchor="end" font-weight="normal" stroke="#222" stroke-width="0.18" transform="translate(55.05,476.30) rotate(-41)">Femur</text>
<rect x="61.95" y="388.10" width="13.90" height="6.30" fill="#154d7e" />
<rect x="61.95" y="394.40" width="13.90" height="15.40" fill="#8a7dbf" />
<rect x="61.95" y="409.80" width="13.90" height="60.00" fill="#2ca8e0" />
<text x="68.90" y="386.30" font-size="4.6" fill="#222" text-anchor="middle" font-weight="normal" >16%</text>
<line x1="68.90" y1="469.8" x2="68.90" y2="471.8" stroke="#111" stroke-width="0.8"/>
<text x="0.00" y="0.00" font-size="6.5" fill="#222" text-anchor="end" font-weight="normal" stroke="#222" stroke-width="0.18" transform="translate(70.80,476.30) rotate(-41)">Spinal column</text>
<rect x="77.70" y="403.50" width="13.90" height="9.20" fill="#154d7e" />
<rect x="77.70" y="412.70" width="13.90" height="12.50" fill="#8a7dbf" />
<rect x="77.70" y="425.20" width="13.90" height="44.60" fill="#2ca8e0" />
<text x="84.65" y="401.70" font-size="4.6" fill="#222" text-anchor="middle" font-weight="normal" >13%</text>
<line x1="84.65" y1="469.8" x2="84.65" y2="471.8" stroke="#111" stroke-width="0.8"/>
<text x="0.00" y="0.00" font-size="6.5" fill="#222" text-anchor="end" font-weight="normal" stroke="#222" stroke-width="0.18" transform="translate(86.55,476.30) rotate(-41)">Pelvic bone</text>
<rect x="93.45" y="427.70" width="13.90" height="6.30" fill="#154d7e" />
<rect x="93.45" y="434.00" width="13.90" height="6.60" fill="#8a7dbf" />
<rect x="93.45" y="440.60" width="13.90" height="29.20" fill="#2ca8e0" />
<text x="100.40" y="425.90" font-size="4.6" fill="#222" text-anchor="middle" font-weight="normal" >8.3%</text>
<line x1="100.40" y1="469.8" x2="100.40" y2="471.8" stroke="#111" stroke-width="0.8"/>
<text x="0.00" y="0.00" font-size="6.5" fill="#222" text-anchor="end" font-weight="normal" stroke="#222" stroke-width="0.18" transform="translate(102.30,476.30) rotate(-41)">Sacrum</text>
<rect x="109.20" y="430.80" width="13.90" height="39.00" fill="#2ca8e0" />
<text x="116.15" y="429.00" font-size="4.6" fill="#222" text-anchor="middle" font-weight="normal" >7.7%</text>
<line x1="116.15" y1="469.8" x2="116.15" y2="471.8" stroke="#111" stroke-width="0.8"/>
<text x="0.00" y="0.00" font-size="6.5" fill="#222" text-anchor="end" font-weight="normal" stroke="#222" stroke-width="0.18" transform="translate(118.05,476.30) rotate(-41)">Ribs</text>
<rect x="124.95" y="431.20" width="13.90" height="6.10" fill="#154d7e" />
<rect x="124.95" y="437.30" width="13.90" height="3.30" fill="#8a7dbf" />
<rect x="124.95" y="440.60" width="13.90" height="29.20" fill="#2ca8e0" />
<text x="131.90" y="429.40" font-size="4.6" fill="#222" text-anchor="middle" font-weight="normal" >7.7%</text>
<line x1="131.90" y1="469.8" x2="131.90" y2="471.8" stroke="#111" stroke-width="0.8"/>
<text x="0.00" y="0.00" font-size="6.5" fill="#222" text-anchor="end" font-weight="normal" stroke="#222" stroke-width="0.18" transform="translate(133.80,476.30) rotate(-41)">Scapula</text>
<rect x="140.70" y="434.00" width="13.90" height="9.70" fill="#154d7e" />
<rect x="140.70" y="443.70" width="13.90" height="9.00" fill="#8a7dbf" />
<rect x="140.70" y="452.70" width="13.90" height="17.10" fill="#2ca8e0" />
<text x="147.65" y="432.20" font-size="4.6" fill="#222" text-anchor="middle" font-weight="normal" >7.1%</text>
<line x1="147.65" y1="469.8" x2="147.65" y2="471.8" stroke="#111" stroke-width="0.8"/>
<text x="0.00" y="0.00" font-size="6.5" fill="#222" text-anchor="end" font-weight="normal" stroke="#222" stroke-width="0.18" transform="translate(149.55,476.30) rotate(-41)">Humerus</text>
<rect x="156.45" y="446.30" width="13.90" height="15.60" fill="#154d7e" />
<rect x="156.45" y="461.90" width="13.90" height="7.90" fill="#8a7dbf" />
<text x="163.40" y="444.50" font-size="4.6" fill="#222" text-anchor="middle" font-weight="normal" >4.7%</text>
<line x1="163.40" y1="469.8" x2="163.40" y2="471.8" stroke="#111" stroke-width="0.8"/>
<text x="0.00" y="0.00" font-size="6.5" fill="#222" text-anchor="end" font-weight="normal" stroke="#222" stroke-width="0.18" transform="translate(165.30,476.30) rotate(-41)">Tibia</text>
<rect x="172.20" y="452.30" width="13.90" height="6.60" fill="#8a7dbf" />
<rect x="172.20" y="458.90" width="13.90" height="10.90" fill="#2ca8e0" />
<text x="179.15" y="450.50" font-size="4.6" fill="#222" text-anchor="middle" font-weight="normal" >3.6%</text>
<line x1="179.15" y1="469.8" x2="179.15" y2="471.8" stroke="#111" stroke-width="0.8"/>
<text x="0.00" y="0.00" font-size="6.5" fill="#222" text-anchor="end" font-weight="normal" stroke="#222" stroke-width="0.18" transform="translate(181.05,476.30) rotate(-41)">Clavicula</text>
<rect x="187.95" y="452.30" width="13.90" height="15.40" fill="#154d7e" />
<rect x="187.95" y="467.70" width="13.90" height="2.10" fill="#2ca8e0" />
<text x="194.90" y="450.50" font-size="4.6" fill="#222" text-anchor="middle" font-weight="normal" >3.6%</text>
<line x1="194.90" y1="469.8" x2="194.90" y2="471.8" stroke="#111" stroke-width="0.8"/>
<text x="0.00" y="0.00" font-size="6.5" fill="#222" text-anchor="end" font-weight="normal" stroke="#222" stroke-width="0.18" transform="translate(196.80,476.30) rotate(-41)">Mandible</text>
<rect x="203.70" y="455.40" width="13.90" height="3.10" fill="#154d7e" />
<rect x="203.70" y="458.50" width="13.90" height="11.30" fill="#2ca8e0" />
<text x="210.65" y="453.60" font-size="4.6" fill="#222" text-anchor="middle" font-weight="normal" >3%</text>
<line x1="210.65" y1="469.8" x2="210.65" y2="471.8" stroke="#111" stroke-width="0.8"/>
<text x="0.00" y="0.00" font-size="6.5" fill="#222" text-anchor="end" font-weight="normal" stroke="#222" stroke-width="0.18" transform="translate(212.55,476.30) rotate(-41)">Sternum</text>
<rect x="219.45" y="458.50" width="13.90" height="3.30" fill="#154d7e" />
<rect x="219.45" y="461.80" width="13.90" height="5.90" fill="#8a7dbf" />
<rect x="219.45" y="467.70" width="13.90" height="2.10" fill="#2ca8e0" />
<text x="226.40" y="456.70" font-size="4.6" fill="#222" text-anchor="middle" font-weight="normal" >2.4%</text>
<line x1="226.40" y1="469.8" x2="226.40" y2="471.8" stroke="#111" stroke-width="0.8"/>
<text x="0.00" y="0.00" font-size="6.5" fill="#222" text-anchor="end" font-weight="normal" stroke="#222" stroke-width="0.18" transform="translate(228.30,476.30) rotate(-41)">Other</text>
<rect x="235.20" y="462.00" width="13.90" height="5.70" fill="#154d7e" />
<rect x="235.20" y="467.70" width="13.90" height="2.10" fill="#8a7dbf" />
<text x="242.15" y="460.20" font-size="4.6" fill="#222" text-anchor="middle" font-weight="normal" >1.8%</text>
<line x1="242.15" y1="469.8" x2="242.15" y2="471.8" stroke="#111" stroke-width="0.8"/>
<text x="0.00" y="0.00" font-size="6.5" fill="#222" text-anchor="end" font-weight="normal" stroke="#222" stroke-width="0.18" transform="translate(244.05,476.30) rotate(-41)">Fibula</text>
<rect x="250.95" y="461.70" width="13.90" height="2.90" fill="#8a7dbf" />
<rect x="250.95" y="464.60" width="13.90" height="5.20" fill="#2ca8e0" />
<text x="257.90" y="459.90" font-size="4.6" fill="#222" text-anchor="middle" font-weight="normal" >1.8%</text>
<line x1="257.90" y1="469.8" x2="257.90" y2="471.8" stroke="#111" stroke-width="0.8"/>
<text x="0.00" y="0.00" font-size="6.5" fill="#222" text-anchor="end" font-weight="normal" stroke="#222" stroke-width="0.18" transform="translate(259.80,476.30) rotate(-41)">Skull</text>
<rect x="266.70" y="464.00" width="13.90" height="3.10" fill="#154d7e" />
<rect x="266.70" y="467.10" width="13.90" height="2.70" fill="#8a7dbf" />
<text x="273.65" y="462.20" font-size="4.6" fill="#222" text-anchor="middle" font-weight="normal" >1.2%</text>
<line x1="273.65" y1="469.8" x2="273.65" y2="471.8" stroke="#111" stroke-width="0.8"/>
<text x="0.00" y="0.00" font-size="6.5" fill="#222" text-anchor="end" font-weight="normal" stroke="#222" stroke-width="0.18" transform="translate(275.55,476.30) rotate(-41)">Ulna</text>
<rect x="282.45" y="467.00" width="13.90" height="2.80" fill="#2ca8e0" />
<text x="289.40" y="465.20" font-size="4.6" fill="#222" text-anchor="middle" font-weight="normal" >0.6%</text>
<line x1="289.40" y1="469.8" x2="289.40" y2="471.8" stroke="#111" stroke-width="0.8"/>
<text x="0.00" y="0.00" font-size="6.5" fill="#222" text-anchor="end" font-weight="normal" stroke="#222" stroke-width="0.18" transform="translate(291.30,476.30) rotate(-41)">Acetabulum</text>
<rect x="298.20" y="467.00" width="13.90" height="2.80" fill="#154d7e" />
<text x="305.15" y="465.20" font-size="4.6" fill="#222" text-anchor="middle" font-weight="normal" >0.6%</text>
<line x1="305.15" y1="469.8" x2="305.15" y2="471.8" stroke="#111" stroke-width="0.8"/>
<text x="0.00" y="0.00" font-size="6.5" fill="#222" text-anchor="end" font-weight="normal" stroke="#222" stroke-width="0.18" transform="translate(307.05,476.30) rotate(-41)">Maxilla</text>
<line x1="42.9" y1="470.2" x2="314.3" y2="470.2" stroke="#111" stroke-width="1.2"/>
<text x="320.90" y="406.20" font-size="8.5" fill="#111" text-anchor="start" font-weight="normal" stroke="#111" stroke-width="0.15" textLength="70.5" lengthAdjust="spacingAndGlyphs">O-DLBCL subtype</text>
<rect x="322.20" y="408.60" width="12.30" height="9.20" fill="#154d7e" />
<text x="338.50" y="416.20" font-size="6.6" fill="#111" text-anchor="start" font-weight="normal" >PB-DLBCL</text>
<rect x="322.20" y="420.00" width="12.30" height="9.20" fill="#8a7dbf" />
<text x="338.50" y="427.60" font-size="6.6" fill="#111" text-anchor="start" font-weight="normal" >Polyostotic-DLBCL</text>
<rect x="322.20" y="431.40" width="12.30" height="9.20" fill="#2ca8e0" />
<text x="338.50" y="439.00" font-size="6.6" fill="#111" text-anchor="start" font-weight="normal" >Disseminated DLBCL</text>
<text x="0.00" y="0.00" font-size="11.6" fill="#000" text-anchor="start" font-weight="bold" transform="translate(6.1,519.9) scale(0.98,1)">D</text>
<line x1="43.6" y1="517" x2="43.6" y2="610.3" stroke="#111" stroke-width="1.1"/>
<line x1="41.6" y1="609.80" x2="43.6" y2="609.80" stroke="#111" stroke-width="0.9"/>
<text x="24.00" y="612.20" font-size="6.8" fill="#222" text-anchor="start" font-weight="normal"  textLength="16.4" lengthAdjust="spacingAndGlyphs">0.0%</text>
<line x1="41.6" y1="594.40" x2="43.6" y2="594.40" stroke="#111" stroke-width="0.9"/>
<text x="24.00" y="596.80" font-size="6.8" fill="#222" text-anchor="start" font-weight="normal"  textLength="16.4" lengthAdjust="spacingAndGlyphs">5.0%</text>
<line x1="41.6" y1="579.00" x2="43.6" y2="579.00" stroke="#111" stroke-width="0.9"/>
<text x="19.50" y="581.40" font-size="6.8" fill="#222" text-anchor="start" font-weight="normal"  textLength="20.9" lengthAdjust="spacingAndGlyphs">10.0%</text>
<line x1="41.6" y1="563.60" x2="43.6" y2="563.60" stroke="#111" stroke-width="0.9"/>
<text x="19.50" y="566.00" font-size="6.8" fill="#222" text-anchor="start" font-weight="normal"  textLength="20.9" lengthAdjust="spacingAndGlyphs">15.0%</text>
<line x1="41.6" y1="548.20" x2="43.6" y2="548.20" stroke="#111" stroke-width="0.9"/>
<text x="19.50" y="550.60" font-size="6.8" fill="#222" text-anchor="start" font-weight="normal"  textLength="20.9" lengthAdjust="spacingAndGlyphs">20.0%</text>
<line x1="41.6" y1="532.80" x2="43.6" y2="532.80" stroke="#111" stroke-width="0.9"/>
<text x="19.50" y="535.20" font-size="6.8" fill="#222" text-anchor="start" font-weight="normal"  textLength="20.9" lengthAdjust="spacingAndGlyphs">25.0%</text>
<line x1="41.6" y1="517.40" x2="43.6" y2="517.40" stroke="#111" stroke-width="0.9"/>
<text x="19.50" y="519.80" font-size="6.8" fill="#222" text-anchor="start" font-weight="normal"  textLength="20.9" lengthAdjust="spacingAndGlyphs">30.0%</text>
<text x="0.00" y="0.00" font-size="5.6" fill="#222" text-anchor="middle" font-weight="normal" transform="translate(15.6,560.9) rotate(-90)" textLength="26.2" lengthAdjust="spacingAndGlyphs">Percentage</text>
<text x="113.80" y="523.50" font-size="8.3" fill="#111" text-anchor="start" font-weight="normal" stroke="#111" stroke-width="0.15">Anatomical non-osseous localization</text>
<rect x="45.60" y="540.50" width="10.10" height="69.30" fill="#f7941d" />
<text x="50.65" y="539.10" font-size="4.6" fill="#222" text-anchor="middle" font-weight="normal" >22.1%</text>
<line x1="50.65" y1="609.8" x2="50.65" y2="611.8" stroke="#111" stroke-width="0.8"/>
<text x="0.00" y="0.00" font-size="6.5" fill="#222" text-anchor="end" font-weight="normal" stroke="#222" stroke-width="0.18" transform="translate(52.95,614.60) rotate(-40)">Nodal</text>
<rect x="57.10" y="580.70" width="10.10" height="29.10" fill="#5d1f6c" />
<text x="62.15" y="579.30" font-size="4.6" fill="#222" text-anchor="middle" font-weight="normal" >9.3%</text>
<line x1="62.15" y1="609.8" x2="62.15" y2="611.8" stroke="#111" stroke-width="0.8"/>
<text x="0.00" y="0.00" font-size="6.5" fill="#222" text-anchor="end" font-weight="normal" stroke="#222" stroke-width="0.18" transform="translate(64.45,614.60) rotate(-40)">CNS</text>
<rect x="68.60" y="584.50" width="10.10" height="7.40" fill="#5d1f6c" />
<rect x="68.60" y="591.90" width="10.10" height="17.90" fill="#0c6b58" />
<text x="73.65" y="583.10" font-size="4.6" fill="#222" text-anchor="middle" font-weight="normal" >8.1%</text>
<line x1="73.65" y1="609.8" x2="73.65" y2="611.8" stroke="#111" stroke-width="0.8"/>
<text x="0.00" y="0.00" font-size="6.5" fill="#222" text-anchor="end" font-weight="normal" stroke="#222" stroke-width="0.18" transform="translate(75.95,614.60) rotate(-40)">Gastrointestinal tract</text>
<rect x="80.10" y="584.50" width="10.10" height="3.70" fill="#5d1f6c" />
<rect x="80.10" y="588.20" width="10.10" height="21.60" fill="#0c6b58" />
<text x="85.15" y="583.10" font-size="4.6" fill="#222" text-anchor="middle" font-weight="normal" >8.1%</text>
<line x1="85.15" y1="609.8" x2="85.15" y2="611.8" stroke="#111" stroke-width="0.8"/>
<text x="0.00" y="0.00" font-size="6.5" fill="#222" text-anchor="end" font-weight="normal" stroke="#222" stroke-width="0.18" transform="translate(87.45,614.60) rotate(-40)">Liver</text>
<rect x="91.60" y="584.50" width="10.10" height="7.40" fill="#5d1f6c" />
<rect x="91.60" y="591.90" width="10.10" height="17.90" fill="#0c6b58" />
<text x="96.65" y="583.10" font-size="4.6" fill="#222" text-anchor="middle" font-weight="normal" >8.1%</text>
<line x1="96.65" y1="609.8" x2="96.65" y2="611.8" stroke="#111" stroke-width="0.8"/>
<text x="0.00" y="0.00" font-size="6.5" fill="#222" text-anchor="end" font-weight="normal" stroke="#222" stroke-width="0.18" transform="translate(98.95,614.60) rotate(-40)">Lung</text>
<rect x="103.10" y="588.20" width="10.10" height="21.60" fill="#0c6b58" />
<text x="108.15" y="586.80" font-size="4.6" fill="#222" text-anchor="middle" font-weight="normal" >7%</text>
<line x1="108.15" y1="609.8" x2="108.15" y2="611.8" stroke="#111" stroke-width="0.8"/>
<text x="0.00" y="0.00" font-size="6.5" fill="#222" text-anchor="end" font-weight="normal" stroke="#222" stroke-width="0.18" transform="translate(110.45,614.60) rotate(-40)">Soft tissue</text>
<rect x="114.60" y="591.90" width="10.10" height="7.00" fill="#5d1f6c" />
<rect x="114.60" y="598.90" width="10.10" height="10.90" fill="#0c6b58" />
<text x="119.65" y="590.50" font-size="4.6" fill="#222" text-anchor="middle" font-weight="normal" >5.8%</text>
<line x1="119.65" y1="609.8" x2="119.65" y2="611.8" stroke="#111" stroke-width="0.8"/>
<text x="0.00" y="0.00" font-size="6.5" fill="#222" text-anchor="end" font-weight="normal" stroke="#222" stroke-width="0.18" transform="translate(121.95,614.60) rotate(-40)">Spleen</text>
<rect x="126.10" y="595.60" width="10.10" height="2.90" fill="#5d1f6c" />
<rect x="126.10" y="598.50" width="10.10" height="11.30" fill="#0c6b58" />
<text x="131.15" y="594.20" font-size="4.6" fill="#222" text-anchor="middle" font-weight="normal" >4.7%</text>
<line x1="131.15" y1="609.8" x2="131.15" y2="611.8" stroke="#111" stroke-width="0.8"/>
<text x="0.00" y="0.00" font-size="6.5" fill="#222" text-anchor="end" font-weight="normal" stroke="#222" stroke-width="0.18" transform="translate(133.45,614.60) rotate(-40)">Pancreas</text>
<rect x="137.60" y="595.60" width="10.10" height="2.90" fill="#5d1f6c" />
<rect x="137.60" y="598.50" width="10.10" height="11.30" fill="#0c6b58" />
<text x="142.65" y="594.20" font-size="4.6" fill="#222" text-anchor="middle" font-weight="normal" >4.7%</text>
<line x1="142.65" y1="609.8" x2="142.65" y2="611.8" stroke="#111" stroke-width="0.8"/>
<text x="0.00" y="0.00" font-size="6.5" fill="#222" text-anchor="end" font-weight="normal" stroke="#222" stroke-width="0.18" transform="translate(144.95,614.60) rotate(-40)">Subcutaneous</text>
<rect x="149.10" y="599.00" width="10.10" height="10.80" fill="#0c6b58" />
<text x="154.15" y="597.60" font-size="4.6" fill="#222" text-anchor="middle" font-weight="normal" >3.5%</text>
<line x1="154.15" y1="609.8" x2="154.15" y2="611.8" stroke="#111" stroke-width="0.8"/>
<text x="0.00" y="0.00" font-size="6.5" fill="#222" text-anchor="end" font-weight="normal" stroke="#222" stroke-width="0.18" transform="translate(156.45,614.60) rotate(-40)">Pleural</text>
<rect x="160.60" y="599.00" width="10.10" height="10.80" fill="#0c6b58" />
<text x="165.65" y="597.60" font-size="4.6" fill="#222" text-anchor="middle" font-weight="normal" >3.5%</text>
<line x1="165.65" y1="609.8" x2="165.65" y2="611.8" stroke="#111" stroke-width="0.8"/>
<text x="0.00" y="0.00" font-size="6.5" fill="#222" text-anchor="end" font-weight="normal" stroke="#222" stroke-width="0.18" transform="translate(167.95,614.60) rotate(-40)">Stomach</text>
<rect x="172.10" y="602.50" width="10.10" height="3.50" fill="#5d1f6c" />
<rect x="172.10" y="606.00" width="10.10" height="3.80" fill="#0c6b58" />
<text x="177.15" y="601.10" font-size="4.6" fill="#222" text-anchor="middle" font-weight="normal" >2.3%</text>
<line x1="177.15" y1="609.8" x2="177.15" y2="611.8" stroke="#111" stroke-width="0.8"/>
<text x="0.00" y="0.00" font-size="6.5" fill="#222" text-anchor="end" font-weight="normal" stroke="#222" stroke-width="0.18" transform="translate(179.45,614.60) rotate(-40)">Orbita</text>
<rect x="183.60" y="602.50" width="10.10" height="7.30" fill="#0c6b58" />
<text x="188.65" y="601.10" font-size="4.6" fill="#222" text-anchor="middle" font-weight="normal" >2.3%</text>
<line x1="188.65" y1="609.8" x2="188.65" y2="611.8" stroke="#111" stroke-width="0.8"/>
<text x="0.00" y="0.00" font-size="6.5" fill="#222" text-anchor="end" font-weight="normal" stroke="#222" stroke-width="0.18" transform="translate(190.95,614.60) rotate(-40)">Tongue</text>
<rect x="195.10" y="606.20" width="10.10" height="3.60" fill="#5d1f6c" />
<text x="200.15" y="604.80" font-size="4.6" fill="#222" text-anchor="middle" font-weight="normal" >1.2%</text>
<line x1="200.15" y1="609.8" x2="200.15" y2="611.8" stroke="#111" stroke-width="0.8"/>
<text x="0.00" y="0.00" font-size="6.5" fill="#222" text-anchor="end" font-weight="normal" stroke="#222" stroke-width="0.18" transform="translate(202.45,614.60) rotate(-40)">Blather</text>
<rect x="206.60" y="606.20" width="10.10" height="3.60" fill="#0c6b58" />
<text x="211.65" y="604.80" font-size="4.6" fill="#222" text-anchor="middle" font-weight="normal" >1.2%</text>
<line x1="211.65" y1="609.8" x2="211.65" y2="611.8" stroke="#111" stroke-width="0.8"/>
<text x="0.00" y="0.00" font-size="6.5" fill="#222" text-anchor="end" font-weight="normal" stroke="#222" stroke-width="0.18" transform="translate(213.95,614.60) rotate(-40)">Cavum nasi</text>
<rect x="218.10" y="606.20" width="10.10" height="3.60" fill="#5d1f6c" />
<text x="223.15" y="604.80" font-size="4.6" fill="#222" text-anchor="middle" font-weight="normal" >1.2%</text>
<line x1="223.15" y1="609.8" x2="223.15" y2="611.8" stroke="#111" stroke-width="0.8"/>
<text x="0.00" y="0.00" font-size="6.5" fill="#222" text-anchor="end" font-weight="normal" stroke="#222" stroke-width="0.18" transform="translate(225.45,614.60) rotate(-40)">Kidney</text>
<rect x="229.60" y="606.20" width="10.10" height="3.60" fill="#0c6b58" />
<text x="234.65" y="604.80" font-size="4.6" fill="#222" text-anchor="middle" font-weight="normal" >1.2%</text>
<line x1="234.65" y1="609.8" x2="234.65" y2="611.8" stroke="#111" stroke-width="0.8"/>
<text x="0.00" y="0.00" font-size="6.5" fill="#222" text-anchor="end" font-weight="normal" stroke="#222" stroke-width="0.18" transform="translate(236.95,614.60) rotate(-40)">Muscle</text>
<rect x="241.10" y="606.20" width="10.10" height="3.60" fill="#5d1f6c" />
<text x="246.15" y="604.80" font-size="4.6" fill="#222" text-anchor="middle" font-weight="normal" >1.2%</text>
<line x1="246.15" y1="609.8" x2="246.15" y2="611.8" stroke="#111" stroke-width="0.8"/>
<text x="0.00" y="0.00" font-size="6.5" fill="#222" text-anchor="end" font-weight="normal" stroke="#222" stroke-width="0.18" transform="translate(248.45,614.60) rotate(-40)">Prostate</text>
<rect x="252.60" y="606.20" width="10.10" height="3.60" fill="#0c6b58" />
<text x="257.65" y="604.80" font-size="4.6" fill="#222" text-anchor="middle" font-weight="normal" >1.2%</text>
<line x1="257.65" y1="609.8" x2="257.65" y2="611.8" stroke="#111" stroke-width="0.8"/>
<text x="0.00" y="0.00" font-size="6.5" fill="#222" text-anchor="end" font-weight="normal" stroke="#222" stroke-width="0.18" transform="translate(259.95,614.60) rotate(-40)">Skin</text>
<rect x="264.10" y="606.20" width="10.10" height="3.60" fill="#5d1f6c" />
<text x="269.15" y="604.80" font-size="4.6" fill="#222" text-anchor="middle" font-weight="normal" >1.2%</text>
<line x1="269.15" y1="609.8" x2="269.15" y2="611.8" stroke="#111" stroke-width="0.8"/>
<text x="0.00" y="0.00" font-size="6.5" fill="#222" text-anchor="end" font-weight="normal" stroke="#222" stroke-width="0.18" transform="translate(271.45,614.60) rotate(-40)">Testis</text>
<rect x="275.60" y="606.20" width="10.10" height="3.60" fill="#0c6b58" />
<text x="280.65" y="604.80" font-size="4.6" fill="#222" text-anchor="middle" font-weight="normal" >1.2%</text>
<line x1="280.65" y1="609.8" x2="280.65" y2="611.8" stroke="#111" stroke-width="0.8"/>
<text x="0.00" y="0.00" font-size="6.5" fill="#222" text-anchor="end" font-weight="normal" stroke="#222" stroke-width="0.18" transform="translate(282.95,614.60) rotate(-40)">Thyroid</text>
<rect x="287.10" y="606.20" width="10.10" height="3.60" fill="#0c6b58" />
<text x="292.15" y="604.80" font-size="4.6" fill="#222" text-anchor="middle" font-weight="normal" >1.2%</text>
<line x1="292.15" y1="609.8" x2="292.15" y2="611.8" stroke="#111" stroke-width="0.8"/>
<text x="0.00" y="0.00" font-size="6.5" fill="#222" text-anchor="end" font-weight="normal" stroke="#222" stroke-width="0.18" transform="translate(294.45,614.60) rotate(-40)">Uterus</text>
<line x1="43.1" y1="609.8" x2="298.5" y2="609.8" stroke="#111" stroke-width="1.1"/>
<text x="321.00" y="549.80" font-size="8.5" fill="#111" text-anchor="start" font-weight="normal" stroke="#111" stroke-width="0.15" textLength="98.4" lengthAdjust="spacingAndGlyphs">NO-DLBCL-GCB subtype</text>
<rect x="321.50" y="553.20" width="13.30" height="8.40" fill="#5d1f6c" />
<text x="337.80" y="560.70" font-size="6.6" fill="#111" text-anchor="start" font-weight="normal" >Extranodal</text>
<rect x="321.50" y="564.00" width="13.30" height="8.40" fill="#f7941d" />
<text x="337.80" y="571.50" font-size="6.6" fill="#111" text-anchor="start" font-weight="normal" >Nodal</text>
<rect x="321.50" y="574.80" width="13.30" height="8.40" fill="#0c6b58" />
<text x="337.80" y="582.30" font-size="6.6" fill="#111" text-anchor="start" font-weight="normal" >Mixed</text>
<rect x="0" y="0" width="520" height="1.2" fill="#000"/><rect x="0" y="0" width="1.5" height="668" fill="#000"/><rect x="518.4" y="0" width="1.6" height="668" fill="#000"/><rect x="0" y="666.2" width="520" height="1.8" fill="#000"/>
</svg>
</body></html>
